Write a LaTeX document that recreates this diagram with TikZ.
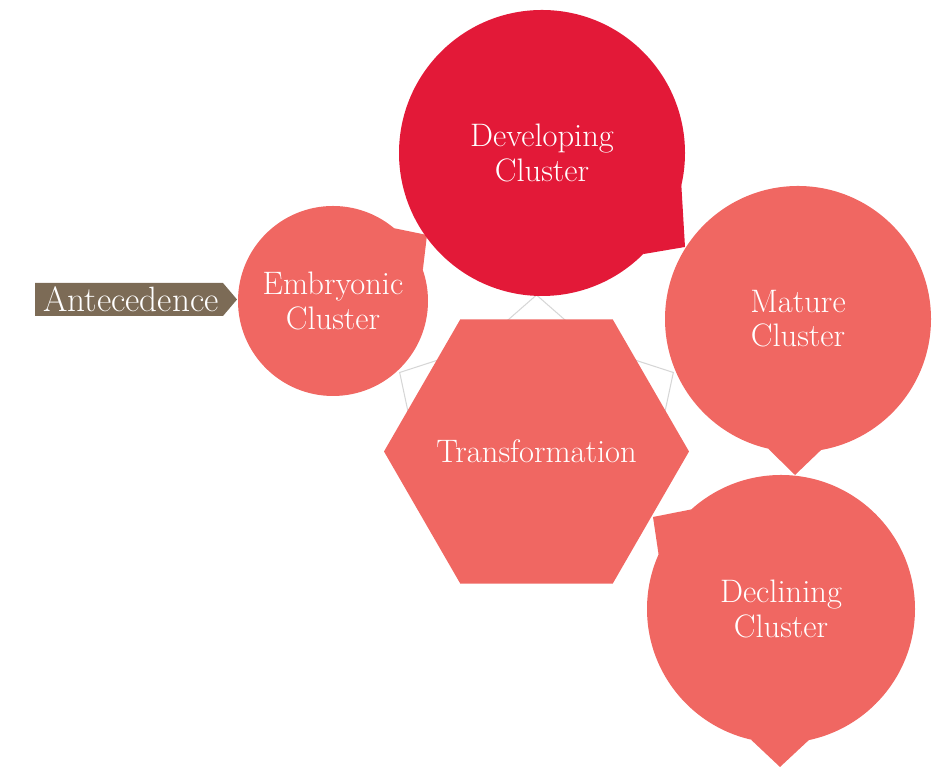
\documentclass[tikz,border=0pt]{standalone}

\definecolor{salmon}{RGB}{240,103,98}
\definecolor{devred}{RGB}{227,25,56}
\definecolor{bark}{RGB}{124,107,86}
\definecolor{rim}{RGB}{214,214,214}

\begin{document}
\begin{tikzpicture}[bubble/.style = {circle, fill = salmon, text = white, align = center, inner sep = 0pt, outer sep = 0pt, font = \fontsize{18.5}{19.5}\selectfont}, label/.style = {text = white, inner sep = 0pt, font = \fontsize{18.5}{19.5}\selectfont}, tag/.style = {text = white, inner sep = 0pt, font = \fontsize{20}{22}\selectfont}]
        \useasboundingbox (0,0) rectangle (18.7,15.34);

        % thin outline behind the hexagon
        \coordinate (hc) at (10.73, 6.31);
        \draw [rim, line width = 0.6pt] ([shift={(180:2.4)}]hc) -- ([shift={(150:3.16)}]hc) -- ([shift={(120:2.4)}]hc) -- ([shift={(90:3.13)}]hc) -- ([shift={(60:2.4)}]hc) -- ([shift={(30:3.16)}]hc) -- ([shift={(0:2.4)}]hc);

        % hexagon, flat top and bottom
        \fill [salmon] ([shift={(0:3.05)}]hc) -- ([shift={(60:3.05)}]hc) -- ([shift={(120:3.05)}]hc) -- ([shift={(180:3.05)}]hc) -- ([shift={(240:3.05)}]hc) -- ([shift={(300:3.05)}]hc) -- cycle;
        \node [label] (trans) at (hc) {Transformation};

        % tips of the callout tails
        \coordinate (embtip) at (8.54, 10.64);
        \coordinate (devtip) at (13.70, 10.40);
        \coordinate (mattip) at (15.90, 5.84);
        \coordinate (dectip) at (15.60, 0.0);
        \coordinate (decback) at (13.06, 5.00);

        \node [bubble, minimum size = 3.8cm] (emb) at (6.66, 9.32) {Embryonic\\Cluster};
        \fill [salmon] (emb.50) -- (embtip) -- (emb.19) -- cycle;

        \node [bubble, fill = devred, minimum size = 5.72cm] (dev) at (10.84, 12.28) {Developing\\Cluster};
        \fill [devred] (dev.-13) -- (devtip) -- (dev.-45) -- cycle;

        \node [bubble, minimum size = 5.32cm] (mat) at (15.96, 8.96) {Mature\\Cluster};
        \fill [salmon] (mat.-103) -- (mattip) -- (mat.-80) -- cycle;

        \node [bubble, minimum size = 5.36cm] (dec) at (15.62, 3.16) {Declining\\Cluster};
        \foreach \a/\b/\t in {-103/-78/dectip, 132/156/decback}
                 {
                   \fill [salmon] (dec.\a) -- (\t) -- (dec.\b) -- cycle;
                 }

        % label arrow on the left
        \fill [bark] (0.7, 9.02) -- (4.46, 9.02) -- (4.74, 9.35) -- (4.46, 9.68) -- (0.7, 9.68) -- cycle;
        \node [tag] (ante) at (2.62, 9.35) {Antecedence};
\end{tikzpicture}
\end{document}
